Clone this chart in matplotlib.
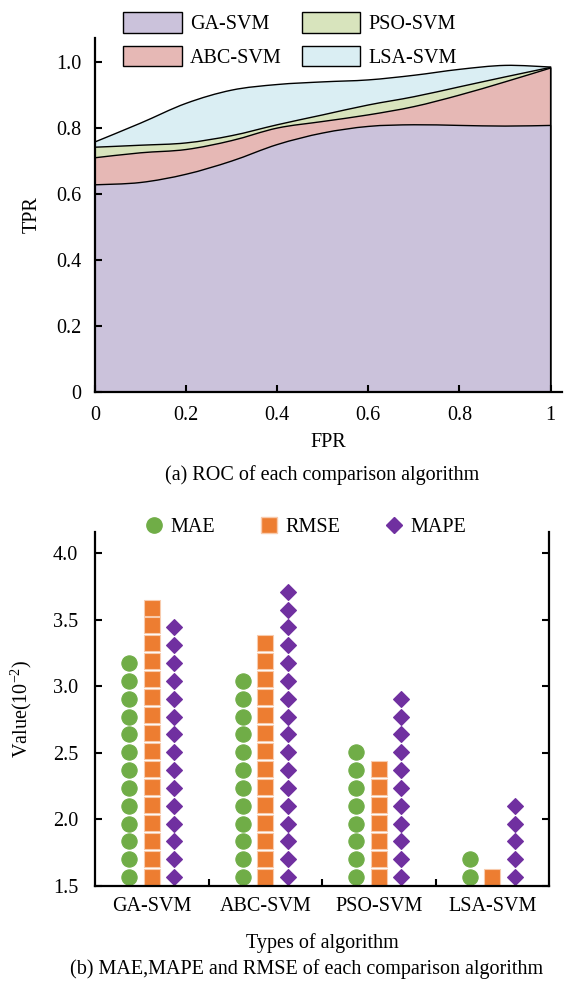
import numpy as np
import matplotlib
matplotlib.use("Agg")
import matplotlib.pyplot as plt
from matplotlib.patches import Patch, PathPatch
from matplotlib.path import Path
from matplotlib.lines import Line2D

plt.rcParams['font.family'] = ['Liberation Serif', 'DejaVu Serif']
plt.rcParams['mathtext.default'] = 'regular'
plt.rcParams['font.size'] = 14.5

# ---- (a) ROC data ----
fpr = [0, 0.1, 0.2, 0.3, 0.4, 0.5, 0.6, 0.7, 0.8, 0.9, 1.0]
tpr_ga = [0.628, 0.635, 0.66, 0.70, 0.75, 0.785, 0.805, 0.81, 0.808, 0.806, 0.808]
tpr_abc = [0.71, 0.725, 0.735, 0.762, 0.80, 0.82, 0.84, 0.865, 0.90, 0.94, 0.982]
tpr_pso = [0.742, 0.748, 0.755, 0.777, 0.81, 0.84, 0.87, 0.895, 0.925, 0.955, 0.984]
tpr_lsa = [0.758, 0.815, 0.875, 0.915, 0.932, 0.94, 0.946, 0.96, 0.978, 0.99, 0.985]
roc_names = ['GA-SVM', 'ABC-SVM', 'PSO-SVM', 'LSA-SVM']
roc_colors = ['#cbc2db', '#e6b8b5', '#d8e4bd', '#daeef3']

# ---- (b) error data ----
algos = ['GA-SVM', 'ABC-SVM', 'PSO-SVM', 'LSA-SVM']
mae = [3.22, 3.12, 2.58, 1.77]
rmse = [3.65, 3.40, 2.45, 1.64]
mape = [3.48, 3.78, 2.97, 2.17]


def smooth_area(x, y):
    # smoothed (catmull-rom style bezier) outline through the points, closed to y=0
    p = np.column_stack([x, y])
    pp = np.vstack([p[0], p, p[-1]])
    verts = [tuple(p[0])]
    codes = [Path.MOVETO]
    for i in range(len(p) - 1):
        c1 = pp[i + 1] + (pp[i + 2] - pp[i]) / 6
        c2 = pp[i + 2] - (pp[i + 3] - pp[i + 1]) / 6
        verts += [tuple(c1), tuple(c2), tuple(p[i + 1])]
        codes += [Path.CURVE4] * 3
    verts += [(x[-1], 0), (x[0], 0), (x[0], y[0])]
    codes += [Path.LINETO, Path.LINETO, Path.CLOSEPOLY]
    return Path(verts, codes)


fig = plt.figure(figsize=(5.64, 9.84), dpi=100)

# ---------------- top chart ----------------
ax1 = fig.add_axes([95 / 564, 1 - 392 / 984, 467 / 564, 354 / 984])
curves = [tpr_ga, tpr_abc, tpr_pso, tpr_lsa]
for i in [3, 2, 1, 0]:
    ax1.add_patch(PathPatch(smooth_area(fpr, curves[i]), facecolor=roc_colors[i],
                            edgecolor='black', linewidth=1.0))
ax1.set_xlim(0, 1.025)
ax1.set_ylim(0, 1.073)
ax1.set_xticks([0, 0.2, 0.4, 0.6, 0.8, 1.0])
ax1.set_xticklabels(['0', '0.2', '0.4', '0.6', '0.8', '1'])
ax1.set_yticks([0, 0.2, 0.4, 0.6, 0.8, 1.0])
ax1.set_yticklabels(['0', '0.2', '0.4', '0.6', '0.8', '1.0'])
ax1.tick_params(direction='in', length=5, width=1.5, pad=10)
for s in ['top', 'right']:
    ax1.spines[s].set_visible(False)
for s in ['left', 'bottom']:
    ax1.spines[s].set_linewidth(1.6)
ax1.set_xlabel('FPR', labelpad=6)
ax1.set_ylabel('TPR', labelpad=10)

handles = [Patch(facecolor=roc_colors[i], edgecolor='black', linewidth=1.0, label=roc_names[i])
           for i in range(4)]
fig.legend(handles=handles, loc='center', bbox_to_anchor=(290 / 564, 1 - 40 / 984),
           ncol=2, frameon=False, handlelength=2.9, handleheight=1.2,
           labelspacing=0.55, columnspacing=1.0, handletextpad=0.4)

fig.text(322 / 564, 1 - 475 / 984, '(a) ROC of each comparison algorithm',
         ha='center', va='center')

# ---------------- bottom chart ----------------
ax2 = fig.add_axes([95 / 564, 1 - 886 / 984, 454 / 564, 354 / 984])
base = 1.5
series = [
    (mae, -0.2, 'o', '#70ad47', '#70ad47', 11, 0.134),
    (rmse, 0.0, 's', '#ed7d31', '#f8cbad', 11.5, 0.135),
    (mape, 0.2, 'D', '#7030a0', '#7030a0', 8, 0.134),
]
for vals, off, mk, fc, ec, ms, step in series:
    for j, v in enumerate(vals):
        n = int(round((v - base) / step))
        ys = base + step * (np.arange(n) + 0.5)
        ax2.plot(np.full(n, j + 0.5 + off), ys, linestyle='none', marker=mk,
                 markersize=ms, markerfacecolor=fc, markeredgecolor=ec,
                 markeredgewidth=0.8, clip_on=False)

ax2.set_xlim(0, 4)
ax2.set_ylim(1.5, 4.16)
ax2.set_yticks([1.5, 2.0, 2.5, 3.0, 3.5, 4.0])
ax2.set_yticklabels(['1.5', '2.0', '2.5', '3.0', '3.5', '4.0'])
ax2.set_xticks([1, 2, 3])
ax2.set_xticklabels([])
ax2.set_xticks([0.5, 1.5, 2.5, 3.5], minor=True)
ax2.set_xticklabels(algos, minor=True)
ax2.tick_params(axis='x', which='major', direction='in', length=5, width=1.5)
ax2.tick_params(axis='x', which='minor', length=0, pad=8)
ax2.tick_params(axis='y', direction='in', length=5, width=1.5, pad=12, right=True)
ax2.spines['top'].set_visible(False)
for s in ['left', 'bottom', 'right']:
    ax2.spines[s].set_linewidth(1.6)
ax2.set_xlabel('Types of algorithm', labelpad=12)
ax2.set_ylabel('Value(10$^{-2}$)', labelpad=14)

leg2 = [
    Line2D([], [], linestyle='none', marker='o', markersize=11, color='#70ad47', label='MAE'),
    Line2D([], [], linestyle='none', marker='s', markersize=11, markerfacecolor='#ed7d31',
           markeredgecolor='#f8cbad', label='RMSE'),
    Line2D([], [], linestyle='none', marker='D', markersize=8, color='#7030a0', label='MAPE'),
]
fig.legend(handles=leg2, loc='center', bbox_to_anchor=(305 / 564, 1 - 527 / 984),
           ncol=3, frameon=False, handlelength=1.0, handletextpad=0.3, columnspacing=2.2)

fig.text(307 / 564, 1 - 969 / 984, '(b) MAE,MAPE and RMSE of each comparison algorithm',
         ha='center', va='center')

fig.savefig('out.png', dpi=100)
